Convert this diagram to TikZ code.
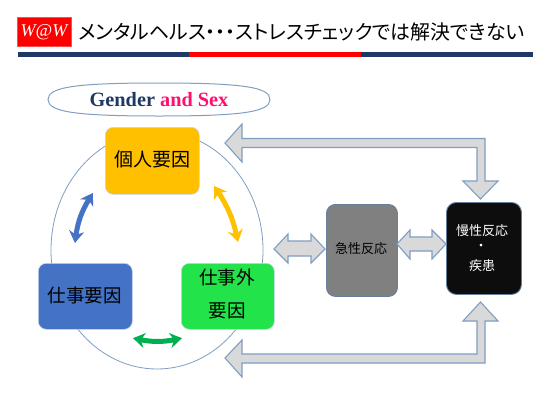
\documentclass[tikz,border=0pt]{standalone}
\usepackage{fontspec}
\usetikzlibrary{arrows.meta,bending,shapes.geometric}
\setmainfont{Liberation Serif}
\newfontfamily\jp{Noto Sans CJK JP}
\newfontfamily\jpp[RawFeature=+palt]{Noto Sans CJK JP}
\definecolor{navy}{HTML}{1F3864}
\definecolor{pinkc}{HTML}{FF0F6E}
\definecolor{edgec}{HTML}{7F9FC2}
\definecolor{goldc}{HTML}{FFC000}
\definecolor{bluec}{HTML}{4472C4}
\definecolor{greenc}{HTML}{22E34A}
\definecolor{darkg}{HTML}{00B050}
\definecolor{grayc}{HTML}{808080}
\definecolor{blackc}{HTML}{0D0D0D}
\definecolor{arrowf}{HTML}{D9D9D9}
\tikzset{
  box/.style={rounded corners=#1, minimum width=0pt, inner sep=0pt, anchor=north west},
  colorbox/.style={box=8pt, draw=white!70!bluec, line width=.6pt},
  ringline/.style={draw=edgec, line width=.8pt},
  blockarrow/.style={draw=edgec, fill=arrowf, line width=1.1pt, line join=miter},
  curvearrow/.style={line width=5pt, {Stealth[length=12pt,width=15pt,bend]}-{Stealth[length=12pt,width=15pt,bend]}},
  jplabel/.style={font=\jp\fontsize{#1}{#1}\selectfont, inner sep=0pt}
}
\begin{document}
\begin{tikzpicture}[x=1pt,y=-1pt]
\useasboundingbox (0,0) rectangle (550,413);
\fill[white] (0,0) rectangle (550,413);
% header
\node[fill=red, draw=red!70!white, line width=.3pt, minimum width=54.5pt, minimum height=29pt, inner sep=0pt, anchor=north west] (logo) at (16.5,17) {};
\node[text=white, font=\itshape\fontsize{18}{18}\selectfont, inner sep=0pt] (logotext) at (44,32) {W@W};
\node[anchor=west, inner sep=0pt, font=\jpp\fontsize{19.9}{19.9}\selectfont] (title) at (78,32) {メンタルヘルス・・・ストレスチェックでは解決できない};
\fill[navy] (18,52) rectangle (533,57);
\fill[red] (189,52) rectangle (361,57);
% Gender
\draw[edgec, line width=1pt, fill=white] (48,99.5) .. controls (48,87) and (76,83) .. (159,83) .. controls (242,83) and (270,87) .. (270,99.5) .. controls (270,112) and (242,116) .. (159,116) .. controls (76,116) and (48,112) .. (48,99.5) -- cycle;
\node[inner sep=0pt, font=\bfseries\fontsize{20.3}{20.3}\selectfont] (gendertext) at (159,100) {\textcolor{navy}{Gender} \textcolor{pinkc}{and Sex}};
% ring
\node[ellipse, ringline, minimum width=212pt, minimum height=238pt, inner sep=0pt] (ring) at (157,250) {};
% boxes
\node[colorbox, fill=goldc, minimum width=94pt, minimum height=67pt] (yellow) at (105,127) {};
\node[colorbox, fill=bluec, minimum width=94pt, minimum height=66pt] (blue) at (38,263) {};
\node[colorbox, fill=greenc, minimum width=93pt, minimum height=66pt] (green) at (181,263) {};
\node[box=9pt, draw=edgec!80!black, line width=.9pt, fill=grayc, minimum width=71pt, minimum height=92pt] (gray) at (326,204) {};
\node[box=10pt, draw=edgec!80!black, line width=.9pt, fill=blackc, minimum width=75pt, minimum height=92pt] (black) at (446,202) {};
% box labels
\node[jplabel=19] (t1) at (152,159) {個人要因};
\node[jplabel=18.5] (t2) at (85,295) {仕事要因};
\node[jplabel=18.5] (t3) at (227,277) {仕事外};
\node[jplabel=18.5] (t4) at (227,311) {要因};
\node[jplabel=13] (t5) at (361,249) {急性反応};
\node[jplabel=13, text=white] (t6) at (482,231) {慢性反応};
\node[jplabel=13, text=white] (t7) at (481,247) {・};
\node[jplabel=13, text=white] (t8) at (482,266) {疾患};
% curved double arrows
\coordinate (b1) at (93,193); \coordinate (b2) at (75,243);
\coordinate (y1) at (214,186); \coordinate (y2) at (238,242);
\coordinate (g1) at (133,338); \coordinate (g2) at (182,338);
\draw[curvearrow, bluec] (b1) to[bend right=14] (b2);
\draw[curvearrow, goldc] (y1) to[bend left=12] (y2);
\draw[curvearrow, darkg] (g1) to[bend right=14] (g2);
% straight block arrows
\draw[blockarrow] (274,249) -- (288,234) -- (288,241) -- (311,241) -- (311,234) -- (325,249) -- (311,263) -- (311,256) -- (288,256) -- (288,263) -- cycle;
\draw[blockarrow] (397,244) -- (410,230) -- (410,237) -- (432,237) -- (432,230) -- (446,244) -- (432,259) -- (432,251) -- (410,251) -- (410,259) -- cycle;
% L-shaped block arrows
\draw[blockarrow] (225,143) -- (242,124) -- (242,138.5) -- (485,138.5) -- (485,181) -- (498,181) -- (480.5,199) -- (463,181) -- (477,181) -- (477,147.5) -- (242,147.5) -- (242,162) -- cycle;
\draw[blockarrow] (225,358) -- (242,340) -- (242,354) -- (477,354) -- (477,321) -- (463,321) -- (480.5,302) -- (498,321) -- (485,321) -- (485,363) -- (242,363) -- (242,377) -- cycle;
\end{tikzpicture}
\end{document}
